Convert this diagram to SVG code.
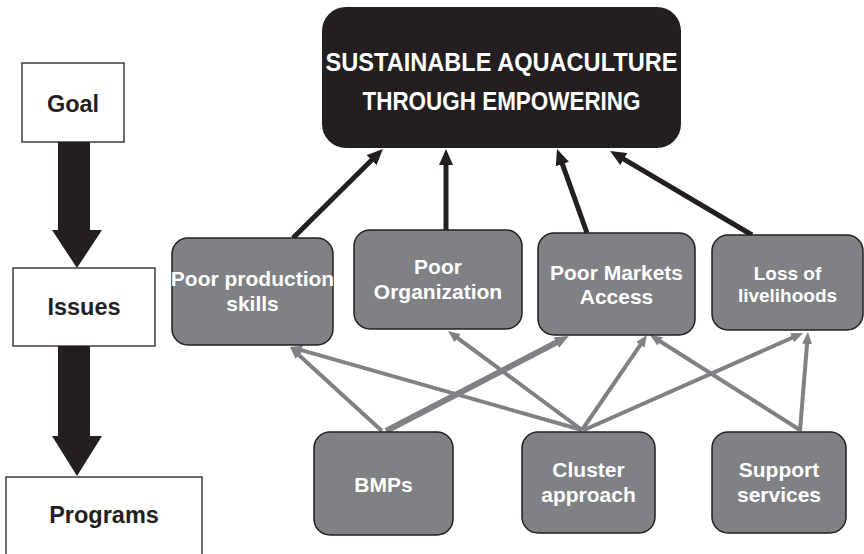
<svg xmlns="http://www.w3.org/2000/svg" width="864" height="554" viewBox="0 0 864 554">
<style>
.lbox{fill:#ffffff;stroke:#231f20;stroke-width:1.3}
.ltxt{font-family:"Liberation Sans",Arial,sans-serif;font-weight:bold;font-size:23.5px;fill:#231f20;text-anchor:middle}
.gbox{fill:#808185;stroke:#231f20;stroke-width:1.5}
.gtxt{font-family:"Liberation Sans",Arial,sans-serif;font-weight:bold;font-size:21px;fill:#ffffff;text-anchor:middle}
.ttxt{font-family:"Liberation Sans",Arial,sans-serif;font-weight:bold;font-size:26px;fill:#ffffff;text-anchor:middle}
.garr{stroke:#808185;stroke-width:4;fill:none;marker-end:url(#gh)}
.garr2{stroke:#808185;stroke-width:6;fill:none;marker-end:url(#gh2)}
.barr{stroke:#231f20;stroke-width:5;fill:none;marker-end:url(#bh)}
.bigarr{fill:#231f20}
</style>
<defs>
<marker id="gh" markerUnits="userSpaceOnUse" markerWidth="12" markerHeight="10" refX="2" refY="5" orient="auto"><path d="M0,0 L12,5 L0,10 z" fill="#808185"/></marker>
<marker id="gh2" markerUnits="userSpaceOnUse" markerWidth="14" markerHeight="12" refX="2" refY="6" orient="auto"><path d="M0,0 L14,6 L0,12 z" fill="#808185"/></marker>
<marker id="bh" markerUnits="userSpaceOnUse" markerWidth="16" markerHeight="14" refX="2" refY="7" orient="auto"><path d="M0,0 L16,7 L0,14 z" fill="#231f20"/></marker>
</defs>

<g id="connectors">
<polygon class="bigarr" points="58,142 90,142 90,230 102,230 77,268 52,230 58,230"/>
<polygon class="bigarr" points="58,346 90,346 90,436 102,436 77,476 52,436 58,436"/>
<line class="barr" x1="293" y1="238" x2="373" y2="158.8"/>
<line class="barr" x1="446" y1="230" x2="446" y2="163"/>
<line class="barr" x1="587" y1="233" x2="561.7" y2="162.2"/>
<line class="barr" x1="752" y1="235" x2="622.1" y2="158.1"/>
<line class="garr" x1="382" y1="431" x2="297.4" y2="353.7"/>
<line class="garr2" x1="386" y1="431" x2="558.1" y2="341.6"/>
<line class="garr" x1="582" y1="430" x2="299.6" y2="349.7"/>
<line class="garr" x1="582" y1="430" x2="456" y2="336.9"/>
<line class="garr" x1="582" y1="430" x2="641.4" y2="343.3"/>
<line class="garr" x1="584" y1="430" x2="793.9" y2="337"/>
<line class="garr" x1="800" y1="430" x2="658.4" y2="340.3"/>
<line class="garr" x1="800" y1="431" x2="807.2" y2="342"/>
</g>

<g id="goal"><rect class="lbox" x="22" y="63" width="102" height="79"/><text class="ltxt" x="73" y="112">Goal</text></g>
<g id="issues"><rect class="lbox" x="13" y="268" width="142" height="78"/><text class="ltxt" x="84" y="315">Issues</text></g>
<g id="programs"><rect class="lbox" x="6" y="477" width="196" height="90"/><text class="ltxt" x="104" y="523">Programs</text></g>

<g id="top"><rect x="322" y="7" width="359" height="141" rx="24" fill="#231f20"/>
<text class="ttxt" x="501.5" y="71" textLength="352" lengthAdjust="spacingAndGlyphs">SUSTAINABLE AQUACULTURE</text>
<text class="ttxt" x="501.5" y="110" textLength="278" lengthAdjust="spacingAndGlyphs">THROUGH EMPOWERING</text></g>

<g id="issue1"><rect class="gbox" x="172" y="238" width="161" height="107" rx="16"/><text class="gtxt" x="252.5" y="286">Poor production</text><text class="gtxt" x="252.5" y="311">skills</text></g>
<g id="issue2"><rect class="gbox" x="354" y="230" width="168" height="99" rx="16"/><text class="gtxt" x="438" y="274">Poor</text><text class="gtxt" x="438" y="299">Organization</text></g>
<g id="issue3"><rect class="gbox" x="538" y="233" width="157" height="102" rx="16"/><text class="gtxt" x="616.5" y="280">Poor Markets</text><text class="gtxt" x="616.5" y="304">Access</text></g>
<g id="issue4"><rect class="gbox" x="712" y="235" width="151" height="95" rx="16"/><text class="gtxt" x="787.5" y="280" style="font-size:19px">Loss of</text><text class="gtxt" x="787.5" y="302" style="font-size:19px">livelihoods</text></g>

<g id="bmps"><rect class="gbox" x="314" y="432" width="139" height="103" rx="16"/><text class="gtxt" x="383.5" y="492">BMPs</text></g>
<g id="cluster"><rect class="gbox" x="522" y="432" width="133" height="101" rx="16"/><text class="gtxt" x="588.5" y="477">Cluster</text><text class="gtxt" x="588.5" y="502">approach</text></g>
<g id="support"><rect class="gbox" x="712" y="432" width="134" height="101" rx="16"/><text class="gtxt" x="779" y="477">Support</text><text class="gtxt" x="779" y="502">services</text></g>
</svg>
